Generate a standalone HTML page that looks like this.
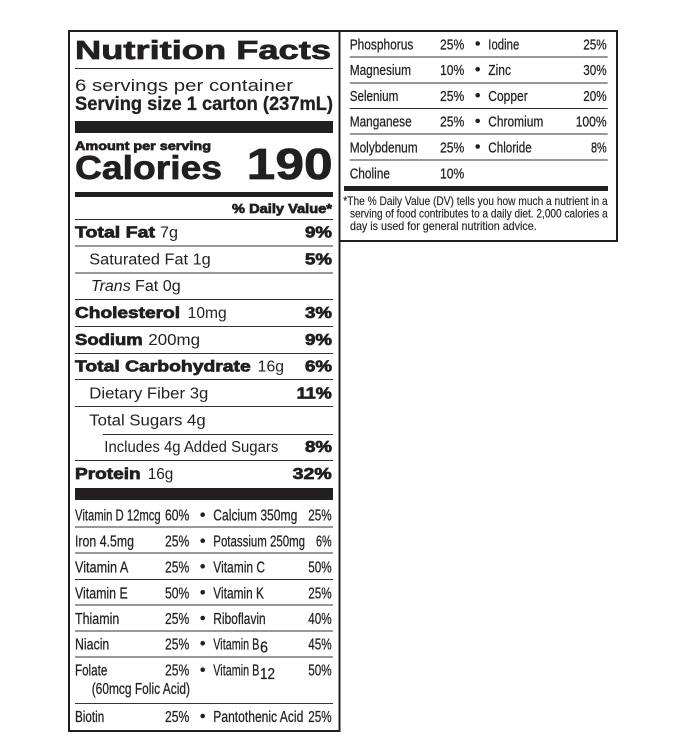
<!DOCTYPE html>
<html>
<head>
<meta charset="utf-8">
<style>
html,body{margin:0;padding:0;background:#fff;}
svg{display:block;}
text{font-family:"Liberation Sans",sans-serif;fill:#231f20;}
.b{font-weight:bold;}
.h{font-weight:bold;stroke:#231f20;stroke-width:0.7;}
.r{font-size:15.5px;}
.c{font-size:15.5px;stroke:#231f20;stroke-width:0.25;}
.rc{font-size:15px;stroke:#231f20;stroke-width:0.25;}
.fn{font-size:11.8px;stroke:#231f20;stroke-width:0.15;}
</style>
</head>
<body>
<svg width="692" height="749" viewBox="0 0 692 749" xmlns="http://www.w3.org/2000/svg">
<rect x="0" y="0" width="692" height="749" fill="#fff"/>
<!-- borders -->
<g stroke="#231f20" stroke-width="2" fill="none">
<line x1="68" y1="31" x2="618" y2="31"/>
<line x1="69" y1="30" x2="69" y2="732"/>
<line x1="68" y1="731" x2="340" y2="731"/>
<line x1="339.5" y1="30" x2="339.5" y2="732"/>
<line x1="617" y1="30" x2="617" y2="242"/>
<line x1="339" y1="241" x2="618" y2="241"/>
</g>

<!-- header -->
<text x="75" y="59" font-size="25.5" class="h" stroke-width="1.5" textLength="256" lengthAdjust="spacingAndGlyphs">Nutrition Facts</text>
<line x1="75" y1="68.5" x2="333" y2="68.5" stroke="#333" stroke-width="1"/>
<text x="75" y="91" font-size="17" textLength="218" lengthAdjust="spacingAndGlyphs">6 servings per container</text>
<text x="75" y="110" font-size="19.5" class="b" stroke="#231f20" stroke-width="0.3" textLength="258" lengthAdjust="spacingAndGlyphs">Serving size 1 carton (237mL)</text>
<rect x="75" y="121" width="258" height="12" fill="#231f20"/>
<text x="75" y="150" font-size="12" class="h" stroke-width="0.6" textLength="136" lengthAdjust="spacingAndGlyphs">Amount per serving</text>
<text x="75" y="179" font-size="33.5" class="h" stroke-width="1.6" textLength="147" lengthAdjust="spacingAndGlyphs">Calories</text>
<text x="246.7" y="179" font-size="43.5" class="h" stroke-width="1.8" textLength="86" lengthAdjust="spacingAndGlyphs">190</text>
<rect x="75" y="192" width="258" height="5" fill="#231f20"/>
<text x="232" y="213" font-size="12.5" class="h" stroke-width="0.6" textLength="100" lengthAdjust="spacingAndGlyphs">% Daily Value*</text>
<g stroke="#333" stroke-width="1">
<line x1="75" y1="219.5" x2="333" y2="219.5"/>
<line x1="75" y1="246" x2="333" y2="246"/>
<line x1="75" y1="273" x2="333" y2="273"/>
<line x1="75" y1="299.5" x2="333" y2="299.5"/>
<line x1="75" y1="326.5" x2="333" y2="326.5"/>
<line x1="75" y1="353.5" x2="333" y2="353.5"/>
<line x1="75" y1="379.5" x2="333" y2="379.5"/>
<line x1="75" y1="406.5" x2="333" y2="406.5"/>
<line x1="103" y1="434.5" x2="333" y2="434.5"/>
<line x1="75" y1="460.5" x2="333" y2="460.5"/>
</g>

<!-- main rows -->
<text x="75" y="237.5" class="r h" textLength="80" lengthAdjust="spacingAndGlyphs">Total Fat</text>
<text x="160" y="237.5" class="r" textLength="18" lengthAdjust="spacingAndGlyphs">7g</text>
<text x="305" y="237.5" class="r h" textLength="27" lengthAdjust="spacingAndGlyphs">9%</text>

<text x="89.3" y="264.5" class="r" textLength="121.4" lengthAdjust="spacingAndGlyphs">Saturated Fat 1g</text>
<text x="305" y="264.5" class="r h" textLength="27" lengthAdjust="spacingAndGlyphs">5%</text>

<text x="91" y="291" class="r" font-style="italic" textLength="39.7" lengthAdjust="spacingAndGlyphs">Trans</text>
<text x="135" y="291" class="r" textLength="45.7" lengthAdjust="spacingAndGlyphs">Fat 0g</text>

<text x="75" y="318" class="r h" textLength="105" lengthAdjust="spacingAndGlyphs">Cholesterol</text>
<text x="187.7" y="318" class="r" textLength="39" lengthAdjust="spacingAndGlyphs">10mg</text>
<text x="305" y="318" class="r h" textLength="27" lengthAdjust="spacingAndGlyphs">3%</text>

<text x="75" y="345" class="r h" textLength="67.7" lengthAdjust="spacingAndGlyphs">Sodium</text>
<text x="148.3" y="345" class="r" textLength="51.7" lengthAdjust="spacingAndGlyphs">200mg</text>
<text x="305" y="345" class="r h" textLength="27" lengthAdjust="spacingAndGlyphs">9%</text>

<text x="75" y="371.7" class="r h" textLength="175.7" lengthAdjust="spacingAndGlyphs">Total Carbohydrate</text>
<text x="257.7" y="371.7" class="r" textLength="26.3" lengthAdjust="spacingAndGlyphs">16g</text>
<text x="305" y="371.7" class="r h" textLength="27" lengthAdjust="spacingAndGlyphs">6%</text>

<text x="89.3" y="398.7" class="r" textLength="119" lengthAdjust="spacingAndGlyphs">Dietary Fiber 3g</text>
<text x="296.7" y="398.7" class="r h" textLength="35" lengthAdjust="spacingAndGlyphs">11%</text>

<text x="89.3" y="425.5" class="r" textLength="116.4" lengthAdjust="spacingAndGlyphs">Total Sugars 4g</text>

<text x="104.3" y="452" class="r" textLength="174" lengthAdjust="spacingAndGlyphs">Includes 4g Added Sugars</text>
<text x="305" y="452" class="r h" textLength="27" lengthAdjust="spacingAndGlyphs">8%</text>

<text x="75" y="479" class="r h" textLength="65.7" lengthAdjust="spacingAndGlyphs">Protein</text>
<text x="147.7" y="479" class="r" textLength="25.6" lengthAdjust="spacingAndGlyphs">16g</text>
<text x="292.7" y="479" class="r h" textLength="39" lengthAdjust="spacingAndGlyphs">32%</text>

<rect x="75" y="488" width="258" height="12" fill="#231f20"/>

<!-- vitamin rows -->
<g stroke="#333" stroke-width="1">
<line x1="75" y1="527" x2="333" y2="527"/>
<line x1="75" y1="553" x2="333" y2="553"/>
<line x1="75" y1="579.5" x2="333" y2="579.5"/>
<line x1="75" y1="605" x2="333" y2="605"/>
<line x1="75" y1="631" x2="333" y2="631"/>
<line x1="75" y1="657" x2="333" y2="657"/>
<line x1="75" y1="703.5" x2="333" y2="703.5"/>
</g>
<g fill="#231f20">
<circle cx="202.7" cy="514.7" r="2.3"/>
<circle cx="202.7" cy="540.7" r="2.3"/>
<circle cx="202.7" cy="566.3" r="2.3"/>
<circle cx="202.7" cy="592.3" r="2.3"/>
<circle cx="202.7" cy="618" r="2.3"/>
<circle cx="202.7" cy="643.3" r="2.3"/>
<circle cx="202.7" cy="669.7" r="2.3"/>
<circle cx="202.7" cy="716" r="2.3"/>
</g>

<text x="75" y="520.7" class="c" textLength="85.7" lengthAdjust="spacingAndGlyphs">Vitamin D 12mcg</text>
<text x="165" y="520.7" class="c" textLength="24.3" lengthAdjust="spacingAndGlyphs">60%</text>
<text x="213.3" y="520.7" class="c" textLength="84" lengthAdjust="spacingAndGlyphs">Calcium 350mg</text>
<text x="308.3" y="520.7" class="c" textLength="23.4" lengthAdjust="spacingAndGlyphs">25%</text>

<text x="75" y="546.7" class="c" textLength="59" lengthAdjust="spacingAndGlyphs">Iron 4.5mg</text>
<text x="165" y="546.7" class="c" textLength="24.3" lengthAdjust="spacingAndGlyphs">25%</text>
<text x="213.3" y="546.7" class="c" textLength="91.7" lengthAdjust="spacingAndGlyphs">Potassium 250mg</text>
<text x="316" y="546.7" class="c" textLength="15.7" lengthAdjust="spacingAndGlyphs">6%</text>

<text x="75" y="572.3" class="c" textLength="53.3" lengthAdjust="spacingAndGlyphs">Vitamin A</text>
<text x="165" y="572.3" class="c" textLength="24.3" lengthAdjust="spacingAndGlyphs">25%</text>
<text x="213.3" y="572.3" class="c" textLength="51.7" lengthAdjust="spacingAndGlyphs">Vitamin C</text>
<text x="308.3" y="572.3" class="c" textLength="23.4" lengthAdjust="spacingAndGlyphs">50%</text>

<text x="75" y="598.3" class="c" textLength="52.7" lengthAdjust="spacingAndGlyphs">Vitamin E</text>
<text x="165" y="598.3" class="c" textLength="24.3" lengthAdjust="spacingAndGlyphs">50%</text>
<text x="213.3" y="598.3" class="c" textLength="50.7" lengthAdjust="spacingAndGlyphs">Vitamin K</text>
<text x="308.3" y="598.3" class="c" textLength="23.4" lengthAdjust="spacingAndGlyphs">25%</text>

<text x="75" y="624" class="c" textLength="44.3" lengthAdjust="spacingAndGlyphs">Thiamin</text>
<text x="165" y="624" class="c" textLength="24.3" lengthAdjust="spacingAndGlyphs">25%</text>
<text x="213.3" y="624" class="c" textLength="52.4" lengthAdjust="spacingAndGlyphs">Riboflavin</text>
<text x="308.3" y="624" class="c" textLength="23.4" lengthAdjust="spacingAndGlyphs">40%</text>

<text x="75" y="649.3" class="c" textLength="34.3" lengthAdjust="spacingAndGlyphs">Niacin</text>
<text x="165" y="649.3" class="c" textLength="24.3" lengthAdjust="spacingAndGlyphs">25%</text>
<text x="213.3" y="649.3" class="c" textLength="46" lengthAdjust="spacingAndGlyphs">Vitamin B</text>
<text x="260" y="652.5" class="c" font-size="14" textLength="8" lengthAdjust="spacingAndGlyphs">6</text>
<text x="308.3" y="649.3" class="c" textLength="23.4" lengthAdjust="spacingAndGlyphs">45%</text>

<text x="75" y="675.7" class="c" textLength="32.3" lengthAdjust="spacingAndGlyphs">Folate</text>
<text x="165" y="675.7" class="c" textLength="24.3" lengthAdjust="spacingAndGlyphs">25%</text>
<text x="213.3" y="675.7" class="c" textLength="46" lengthAdjust="spacingAndGlyphs">Vitamin B</text>
<text x="260" y="679" class="c" font-size="14" textLength="15" lengthAdjust="spacingAndGlyphs">12</text>
<text x="308.3" y="675.7" class="c" textLength="23.4" lengthAdjust="spacingAndGlyphs">50%</text>
<text x="91.7" y="694" class="c" textLength="98.3" lengthAdjust="spacingAndGlyphs">(60mcg Folic Acid)</text>

<text x="75" y="722" class="c" textLength="29.3" lengthAdjust="spacingAndGlyphs">Biotin</text>
<text x="165" y="722" class="c" textLength="24.3" lengthAdjust="spacingAndGlyphs">25%</text>
<text x="213.3" y="722" class="c" textLength="90" lengthAdjust="spacingAndGlyphs">Pantothenic Acid</text>
<text x="308.3" y="722" class="c" textLength="23.4" lengthAdjust="spacingAndGlyphs">25%</text>

<!-- right box -->
<g stroke="#333" stroke-width="1">
<line x1="349.7" y1="57" x2="607.7" y2="57"/>
<line x1="349.7" y1="83" x2="607.7" y2="83"/>
<line x1="349.7" y1="108.5" x2="607.7" y2="108.5"/>
<line x1="349.7" y1="134" x2="607.7" y2="134"/>
<line x1="349.7" y1="160" x2="607.7" y2="160"/>
</g>
<g fill="#231f20">
<circle cx="477.7" cy="43.5" r="2.3"/>
<circle cx="477.7" cy="69.2" r="2.3"/>
<circle cx="477.7" cy="95.2" r="2.3"/>
<circle cx="477.7" cy="120.9" r="2.3"/>
<circle cx="477.7" cy="146.5" r="2.3"/>
</g>

<text x="349.7" y="49.3" class="rc" textLength="63.6" lengthAdjust="spacingAndGlyphs">Phosphorus</text>
<text x="440" y="49.3" class="rc" textLength="24.3" lengthAdjust="spacingAndGlyphs">25%</text>
<text x="488.3" y="49.3" class="rc" textLength="31" lengthAdjust="spacingAndGlyphs">Iodine</text>
<text x="583.3" y="49.3" class="rc" textLength="23.4" lengthAdjust="spacingAndGlyphs">25%</text>

<text x="349.7" y="75" class="rc" textLength="61.3" lengthAdjust="spacingAndGlyphs">Magnesium</text>
<text x="440" y="75" class="rc" textLength="24.3" lengthAdjust="spacingAndGlyphs">10%</text>
<text x="488.3" y="75" class="rc" textLength="22.7" lengthAdjust="spacingAndGlyphs">Zinc</text>
<text x="583.3" y="75" class="rc" textLength="23.4" lengthAdjust="spacingAndGlyphs">30%</text>

<text x="349.7" y="101" class="rc" textLength="48.6" lengthAdjust="spacingAndGlyphs">Selenium</text>
<text x="440" y="101" class="rc" textLength="24.3" lengthAdjust="spacingAndGlyphs">25%</text>
<text x="488.3" y="101" class="rc" textLength="39.4" lengthAdjust="spacingAndGlyphs">Copper</text>
<text x="583.3" y="101" class="rc" textLength="23.4" lengthAdjust="spacingAndGlyphs">20%</text>

<text x="349.7" y="126.7" class="rc" textLength="62" lengthAdjust="spacingAndGlyphs">Manganese</text>
<text x="440" y="126.7" class="rc" textLength="24.3" lengthAdjust="spacingAndGlyphs">25%</text>
<text x="488.3" y="126.7" class="rc" textLength="55" lengthAdjust="spacingAndGlyphs">Chromium</text>
<text x="575.7" y="126.7" class="rc" textLength="31" lengthAdjust="spacingAndGlyphs">100%</text>

<text x="349.7" y="152.3" class="rc" textLength="68" lengthAdjust="spacingAndGlyphs">Molybdenum</text>
<text x="440" y="152.3" class="rc" textLength="24.3" lengthAdjust="spacingAndGlyphs">25%</text>
<text x="488.3" y="152.3" class="rc" textLength="43.4" lengthAdjust="spacingAndGlyphs">Chloride</text>
<text x="591" y="152.3" class="rc" textLength="15.7" lengthAdjust="spacingAndGlyphs">8%</text>

<text x="349.7" y="178.3" class="rc" textLength="40.3" lengthAdjust="spacingAndGlyphs">Choline</text>
<text x="440" y="178.3" class="rc" textLength="24.3" lengthAdjust="spacingAndGlyphs">10%</text>

<rect x="344" y="186" width="264" height="5" fill="#231f20"/>

<text x="343.3" y="205" class="fn" textLength="264.4" lengthAdjust="spacingAndGlyphs">*The % Daily Value (DV) tells you how much a nutrient in a</text>
<text x="350" y="217.5" class="fn" textLength="257.7" lengthAdjust="spacingAndGlyphs">serving of food contributes to a daily diet. 2,000 calories a</text>
<text x="350" y="230" class="fn" textLength="186.7" lengthAdjust="spacingAndGlyphs">day is used for general nutrition advice.</text>
</svg>
</body>
</html>
